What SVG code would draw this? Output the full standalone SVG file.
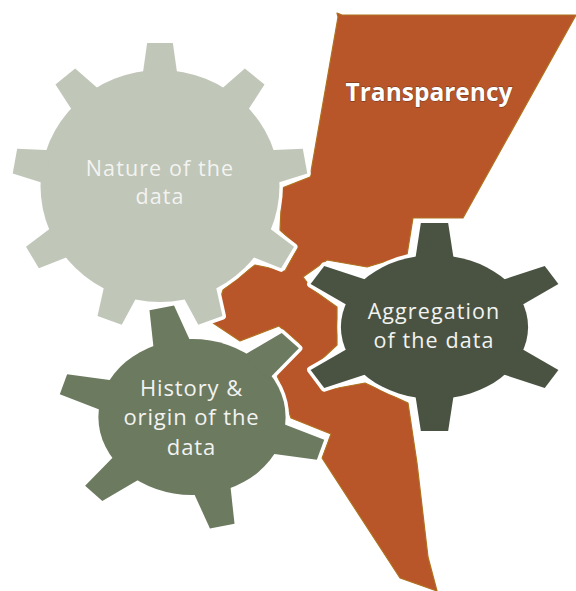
<svg xmlns="http://www.w3.org/2000/svg" xmlns:xlink="http://www.w3.org/1999/xlink" width="576" height="591" viewBox="0 0 576 591">
<style>
.lbl{font-family:"Open Sans","Liberation Sans",sans-serif;fill:#F3F3F1;text-anchor:middle}
.ttl{font-family:"Open Sans","Liberation Sans",sans-serif;font-weight:bold;fill:#FFFFFF;text-anchor:middle;stroke:#6A3222;stroke-width:0.8;paint-order:stroke}
.vs{vector-effect:non-scaling-stroke}
</style>
<defs>
<g id="g1">
<circle class="vs" vector-effect="non-scaling-stroke" r="116"/>
<polygon class="vs" vector-effect="non-scaling-stroke" points="-17,-110 17,-110 12.5,-143 -12.5,-143"/>
<polygon class="vs" vector-effect="non-scaling-stroke" points="-17,-110 17,-110 12.5,-143 -12.5,-143" transform="rotate(40)"/>
<polygon class="vs" vector-effect="non-scaling-stroke" points="-17,-110 17,-110 12.5,-143 -12.5,-143" transform="rotate(80)"/>
<polygon class="vs" vector-effect="non-scaling-stroke" points="-17,-110 17,-110 12.5,-143 -12.5,-143" transform="rotate(120)"/>
<polygon class="vs" vector-effect="non-scaling-stroke" points="-17,-110 17,-110 12.5,-143 -12.5,-143" transform="rotate(160)"/>
<polygon class="vs" vector-effect="non-scaling-stroke" points="-17,-110 17,-110 12.5,-143 -12.5,-143" transform="rotate(200)"/>
<polygon class="vs" vector-effect="non-scaling-stroke" points="-17,-110 17,-110 12.5,-143 -12.5,-143" transform="rotate(240)"/>
<polygon class="vs" vector-effect="non-scaling-stroke" points="-17,-110 17,-110 12.5,-143 -12.5,-143" transform="rotate(280)"/>
<polygon class="vs" vector-effect="non-scaling-stroke" points="-17,-110 17,-110 12.5,-143 -12.5,-143" transform="rotate(320)"/>
</g>
<g id="g2">
<circle class="vs" vector-effect="non-scaling-stroke" r="72"/>
<polygon class="vs" vector-effect="non-scaling-stroke" points="-15,-66 15,-66 10.5,-104 -10.5,-104"/>
<polygon class="vs" vector-effect="non-scaling-stroke" points="-15,-66 15,-66 10.5,-104 -10.5,-104" transform="rotate(60)"/>
<polygon class="vs" vector-effect="non-scaling-stroke" points="-15,-66 15,-66 10.5,-104 -10.5,-104" transform="rotate(120)"/>
<polygon class="vs" vector-effect="non-scaling-stroke" points="-15,-66 15,-66 10.5,-104 -10.5,-104" transform="rotate(180)"/>
<polygon class="vs" vector-effect="non-scaling-stroke" points="-15,-66 15,-66 10.5,-104 -10.5,-104" transform="rotate(240)"/>
<polygon class="vs" vector-effect="non-scaling-stroke" points="-15,-66 15,-66 10.5,-104 -10.5,-104" transform="rotate(300)"/>
</g>
<g id="g3">
<circle class="vs" vector-effect="non-scaling-stroke" r="78"/>
<polygon class="vs" vector-effect="non-scaling-stroke" points="-16,-72 16,-72 10.5,-112 -10.5,-112" transform="rotate(-13)"/>
<polygon class="vs" vector-effect="non-scaling-stroke" points="-16,-72 16,-72 10.5,-112 -10.5,-112" transform="rotate(47)"/>
<polygon class="vs" vector-effect="non-scaling-stroke" points="-16,-72 16,-72 10.5,-112 -10.5,-112" transform="rotate(107)"/>
<polygon class="vs" vector-effect="non-scaling-stroke" points="-16,-72 16,-72 10.5,-112 -10.5,-112" transform="rotate(167)"/>
<polygon class="vs" vector-effect="non-scaling-stroke" points="-16,-72 16,-72 10.5,-112 -10.5,-112" transform="rotate(227)"/>
<polygon class="vs" vector-effect="non-scaling-stroke" points="-16,-72 16,-72 10.5,-112 -10.5,-112" transform="rotate(287)"/>
</g>
</defs>
<rect width="576" height="591" fill="#FFFFFF"/>
<g id="transparency">
<polygon fill="#B8562A" stroke="#B0701E" stroke-width="1.2" stroke-linejoin="round" points="337,13 342,15 576,15 463,218 413,218 407,255 367,267 327,260 303,277 313,290 337,307 337,345 309,371 322,391 365,383 408,403 417,463 428,557 437,591 400,578 322,458 331,434 291,418 284,397 277,375 300,344 279,326 240,341 213,323 223,290 255,265 285,271 298,247 280,230 282,188 310,177 338,17"/>
<text class="ttl" x="429" y="101" font-size="24.5">Transparency</text>
</g>
<g id="gear-nature">
<use href="#g1" xlink:href="#g1" transform="translate(160,186) scale(1.03,1)" fill="#FFFFFF" stroke="#FFFFFF" stroke-width="7" stroke-linejoin="round"/>
<use href="#g1" xlink:href="#g1" transform="translate(160,186) scale(1.03,1)" fill="#C0C6B8"/>
<text class="lbl" x="160" y="176" font-size="21.5" letter-spacing="1.1">Nature of the</text>
<text class="lbl" x="160" y="204" font-size="21.5" letter-spacing="1.1">data</text>
</g>
<g id="gear-aggregation">
<use href="#g2" xlink:href="#g2" transform="translate(434.5,327) scale(1.3,1)" fill="#FFFFFF" stroke="#FFFFFF" stroke-width="7" stroke-linejoin="round"/>
<use href="#g2" xlink:href="#g2" transform="translate(434.5,327) scale(1.3,1)" fill="#4A5342"/>
<text class="lbl" x="434" y="319" font-size="21.5" letter-spacing="1.1">Aggregation</text>
<text class="lbl" x="434" y="348" font-size="21.5" letter-spacing="1.1">of the data</text>
</g>
<g id="gear-history">
<use href="#g3" xlink:href="#g3" transform="translate(192,417) scale(1.2,1)" fill="#FFFFFF" stroke="#FFFFFF" stroke-width="7" stroke-linejoin="round"/>
<use href="#g3" xlink:href="#g3" transform="translate(192,417) scale(1.2,1)" fill="#6C7A5F"/>
<text class="lbl" x="191.5" y="396" font-size="22" letter-spacing="0.9">History &amp;</text>
<text class="lbl" x="191.5" y="425" font-size="22" letter-spacing="0.9">origin of the</text>
<text class="lbl" x="191.5" y="455" font-size="22" letter-spacing="0.9">data</text>
</g>
<g id="connectors"/>
</svg>
